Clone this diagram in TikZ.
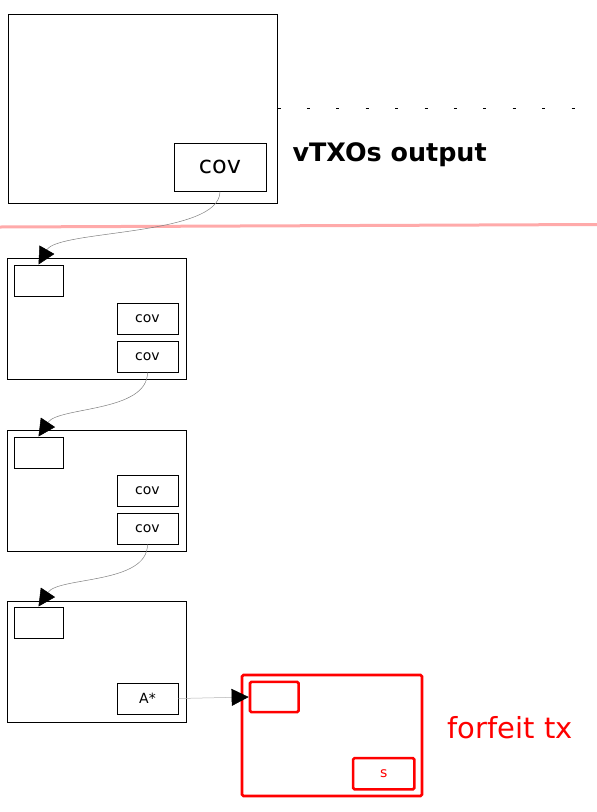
\documentclass[tikz,border=0pt]{standalone}
\usepackage{fontspec}
\setmainfont{DejaVu Sans}
\usetikzlibrary{arrows.meta}
\definecolor{seppink}{HTML}{FFAAAA}
\definecolor{ffred}{HTML}{FF0000}

\begin{document}
\begin{tikzpicture}[x=1pt,y=-1pt,
  txbox/.style={draw,line width=1pt,inner sep=0pt,minimum width=179pt,minimum height=121pt},
  slot/.style={draw,line width=1pt,inner sep=0pt,minimum width=61pt,minimum height=31pt,
    font=\fontsize{14}{16}\selectfont},
  inslot/.style={slot,minimum width=49pt},
  ffbox/.style={draw=ffred,line width=2.6pt,rounded corners=1.5pt,inner sep=0pt},
  flow/.style={draw=gray,line width=.5pt,-{Triangle[length=17pt,width=17pt,black]}}]
  \useasboundingbox (0,0) rectangle (597,812);
  % settled vtxo tree output
  \node[draw,line width=1pt,inner sep=0pt,minimum width=269pt,minimum height=189pt] (root) at (142.5,108.5) {};
  \node[slot,minimum width=92pt,minimum height=48pt,font=\fontsize{24}{28}\selectfont] (rootcov) at (220,167) {cov};
  \coordinate (dotend) at (575,108.5);
  \draw[line width=.8pt,dash pattern=on 3pt off 26.4pt] (root.east) -- (dotend);
  \node[anchor=base west,font=\bfseries\fontsize{25.4}{30}\selectfont] (vtxolbl) at (289,161) {vTXOs output};
  \draw[seppink,line width=3pt] (0,227) -- (597,224.5);
  % chain of txs
  \node[txbox] (tx1) at (96.5,318.5) {};
  \node[inslot] (tx1in) at (38.5,280.5) {};
  \node[slot] (tx1a) at (147.5,318.5) {cov};
  \node[slot] (tx1b) at (147.5,356.5) {cov};
  \node[txbox] (tx2) at (96.5,490.5) {};
  \node[inslot] (tx2in) at (38.5,452.5) {};
  \node[slot] (tx2a) at (147.5,490.5) {cov};
  \node[slot] (tx2b) at (147.5,528.5) {cov};
  \node[txbox] (tx3) at (96.5,661.5) {};
  \node[inslot] (tx3in) at (38.5,622.5) {};
  \node[slot] (tx3a) at (147.5,698.5) {A*};
  % forfeit
  \node[ffbox,minimum width=180pt,minimum height=121pt] (ff) at (332,735.5) {};
  \node[ffbox,minimum width=48.7pt,minimum height=30.3pt] (ffin) at (274.3,697) {};
  \node[ffbox,minimum width=61.3pt,minimum height=31.3pt,text=ffred,font=\fontsize{14}{16}\selectfont] (ffs) at (383.7,773.7) {s};
  \node[anchor=base west,text=ffred,font=\fontsize{29}{34}\selectfont] (fflbl) at (444,738) {forfeit tx};
  \draw[flow] (rootcov.south) .. controls +(0,45) and +(20,-35) .. (tx1in.north);
  \draw[flow] (tx1b.south) .. controls +(0,40) and +(20,-30) .. (tx2in.north);
  \draw[flow] (tx2b.south) .. controls +(0,40) and +(20,-30) .. (tx3in.north);
  \draw[flow,draw=gray!60] (tx3a.east) -- (ffin.west);
\end{tikzpicture}
\end{document}
